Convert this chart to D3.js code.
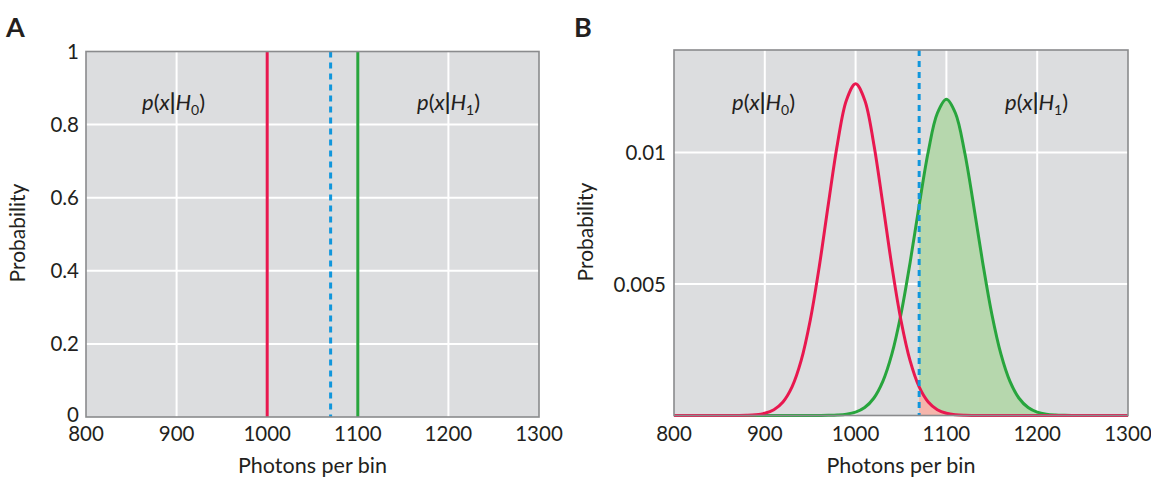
<!DOCTYPE html>
<html>
<head>
<meta charset="utf-8">
<script src="https://cdn.jsdelivr.net/npm/d3@7"></script>
<style>
  html, body { margin: 0; padding: 0; background: #ffffff; }
  svg { display: block; }
  text { font-family: Lato, "Open Sans", sans-serif; fill: #231f20; }
</style>
</head>
<body>
<svg id="chart" width="1151" height="477"></svg>
<script>
// ---------- data ----------
const photons = [800,810,820,830,840,850,860,870,880,890,900,910,920,930,940,950,960,970,980,990,
  1000,1010,1020,1030,1040,1050,1060,1070,1080,1090,1100,1110,1120,1130,1140,1150,1160,1170,1180,1190,
  1200,1210,1220,1230,1240,1250,1260,1270,1280,1290,1300];
const pH0 = [0,0,0,0,0,0,0,0.0000027,0.0000094,0.0000297,0.000085,0.00022,0.000514,0.001088,0.002085,0.003614,0.005669,0.008044,0.010329,0.012001,
  0.012616,0.012001,0.010329,0.008044,0.005669,0.003614,0.002085,0.001088,0.000514,0.00022,0.000085,0.0000297,0.0000094,0.0000027,0,0,0,0,0,0,
  0,0,0,0,0,0,0,0,0,0,0];
const pH1 = [0,0,0,0,0,0,0,0,0,0,0,0,0,0,0,0,0.0000016,0.0000055,0.0000173,0.0000492,
  0.000128,0.000303,0.000656,0.001297,0.002342,0.003861,0.005813,0.00799,0.01003,0.011495,0.012029,0.011495,0.01003,0.00799,0.005813,0.003861,0.002342,0.001297,0.000656,0.000303,
  0.000128,0.0000492,0.0000173,0.0000055,0.0000016,0,0,0,0,0,0];
const meanH0 = 1000;
const meanH1 = 1100;
const threshold = 1070;
const xTicks = [800, 900, 1000, 1100, 1200, 1300];
const xGrid = [900, 1000, 1100, 1200];
const yTicksA = [0, 0.2, 0.4, 0.6, 0.8, 1];
const yTickLabelsA = ["0", "0.2", "0.4", "0.6", "0.8", "1"];
const yGridA = [0.2, 0.4, 0.6, 0.8];
const yTicksB = [0.005, 0.01];
const yTickLabelsB = ["0.005", "0.01"];

// ---------- styles ----------
const C = {
  bg: "#dcdddf", grid: "#ffffff", border: "#8a8b8d",
  red: "#e8184f", green: "#28a53d", blue: "#1096dc",
  greenFill: "#b6d7ad", redFill: "#f5b5ab"
};

const svg = d3.select("#chart");
const data = photons.map((x, i) => ({ x, h0: pH0[i], h1: pH1[i] }));

function panel(opts) {
  const { x, y, gridY, ticksY, labelsY, labelEndX, probX, probY, letter, letterX } = opts;
  const g = svg.append("g");
  const [x0, x1] = x.range();
  const [yb, yt] = y.range();
  g.append("rect").attr("x", x0).attr("y", yt).attr("width", x1 - x0).attr("height", yb - yt).attr("fill", C.bg);
  g.selectAll(".gx").data(xGrid).join("line")
    .attr("x1", d => x(d)).attr("x2", d => x(d)).attr("y1", yt).attr("y2", yb)
    .attr("stroke", C.grid).attr("stroke-width", 2);
  g.selectAll(".gy").data(gridY).join("line")
    .attr("x1", x0).attr("x2", x1).attr("y1", d => y(d)).attr("y2", d => y(d))
    .attr("stroke", C.grid).attr("stroke-width", 2);
  // x tick labels
  g.selectAll(".xt").data(xTicks).join("text")
    .attr("x", d => x(d)).attr("y", 441).attr("text-anchor", "middle")
    .attr("font-size", 20.5).text(d => d);
  // y tick labels
  g.selectAll(".yt").data(ticksY).join("text")
    .attr("x", labelEndX).attr("y", d => Math.min(y(d) + 7.5, 422)).attr("text-anchor", "end")
    .attr("font-size", 20.5).text((d, i) => labelsY[i]);
  g.append("text").attr("x", (x0 + x1) / 2).attr("y", 473).attr("text-anchor", "middle")
    .attr("font-size", 21.5).text("Photons per bin");
  g.append("text").attr("transform", `translate(${probX},${probY}) rotate(-90)`)
    .attr("text-anchor", "middle").attr("font-size", 21).text("Probability");
  g.append("text").attr("x", letterX).attr("y", 37).attr("font-size", 27)
    .attr("font-weight", "bold").attr("font-family", "'DejaVu Sans', sans-serif").text(letter);
  return g;
}

function annot(g, xPos, yPos, sub) {
  const t = g.append("text").attr("x", xPos).attr("y", yPos).attr("font-size", 22);
  t.append("tspan").attr("font-style", "italic").text("p");
  t.append("tspan").text("(");
  t.append("tspan").attr("font-style", "italic").text("x");
  t.append("tspan").attr("font-weight", "bold").text("|");
  t.append("tspan").attr("font-style", "italic").text("H");
  t.append("tspan").attr("font-size", 14).attr("dy", 5).text(sub);
  t.append("tspan").attr("dy", -5).text(")");
}

function border(g, x, y) {
  const [x0, x1] = x.range();
  const [yb, yt] = y.range();
  g.append("rect").attr("x", x0).attr("y", yt).attr("width", x1 - x0).attr("height", yb - yt)
    .attr("fill", "none").attr("stroke", C.border).attr("stroke-width", 1.6);
}

// ---------- Panel A ----------
const xA = d3.scaleLinear().domain([800, 1300]).range([86, 539]);
const yA = d3.scaleLinear().domain([0, 1]).range([417, 51.5]);
const gA = panel({ x: xA, y: yA, gridY: yGridA, ticksY: yTicksA, labelsY: yTickLabelsA,
  labelEndX: 79, probX: 25, probY: 233, letter: "A", letterX: 6 });
gA.append("line").attr("x1", xA(meanH0)).attr("x2", xA(meanH0)).attr("y1", yA(0)).attr("y2", yA(1))
  .attr("stroke", C.red).attr("stroke-width", 3);
gA.append("line").attr("x1", xA(meanH1)).attr("x2", xA(meanH1)).attr("y1", yA(0)).attr("y2", yA(1))
  .attr("stroke", C.green).attr("stroke-width", 3);
gA.append("line").attr("x1", xA(threshold)).attr("x2", xA(threshold)).attr("y1", yA(1)).attr("y2", yA(0))
  .attr("stroke", C.blue).attr("stroke-width", 3).attr("stroke-dasharray", "6,5");
annot(gA, 142, 110, "0");
annot(gA, 417, 110, "1");
border(gA, xA, yA);

// ---------- Panel B ----------
const xB = d3.scaleLinear().domain([800, 1300]).range([674, 1128]);
const yB = d3.scaleLinear().domain([0, 0.0139]).range([415.5, 50]);
const gB = panel({ x: xB, y: yB, gridY: yTicksB, ticksY: yTicksB, labelsY: yTickLabelsB,
  labelEndX: 666, probX: 593, probY: 232, letter: "B", letterX: 574 });
const right = data.filter(d => d.x >= threshold);
const area = key => d3.area().x(d => xB(d.x)).y0(yB(0)).y1(d => yB(d[key])).curve(d3.curveCatmullRom);
const line = key => d3.line().x(d => xB(d.x)).y(d => yB(d[key])).curve(d3.curveCatmullRom);
gB.append("path").datum(right).attr("d", area("h1")).attr("fill", C.greenFill);
gB.append("path").datum(right).attr("d", area("h0")).attr("fill", C.redFill);
gB.append("path").datum(data).attr("d", line("h1")).attr("fill", "none")
  .attr("stroke", C.green).attr("stroke-width", 3);
gB.append("path").datum(data).attr("d", line("h0")).attr("fill", "none")
  .attr("stroke", C.red).attr("stroke-width", 3);
gB.append("line").attr("x1", xB(threshold)).attr("x2", xB(threshold)).attr("y1", yB.range()[1]).attr("y2", yB(0))
  .attr("stroke", C.blue).attr("stroke-width", 3).attr("stroke-dasharray", "6,5");
annot(gB, 732, 110, "0");
annot(gB, 1005, 110, "1");
border(gB, xB, yB);
</script>
</body>
</html>
